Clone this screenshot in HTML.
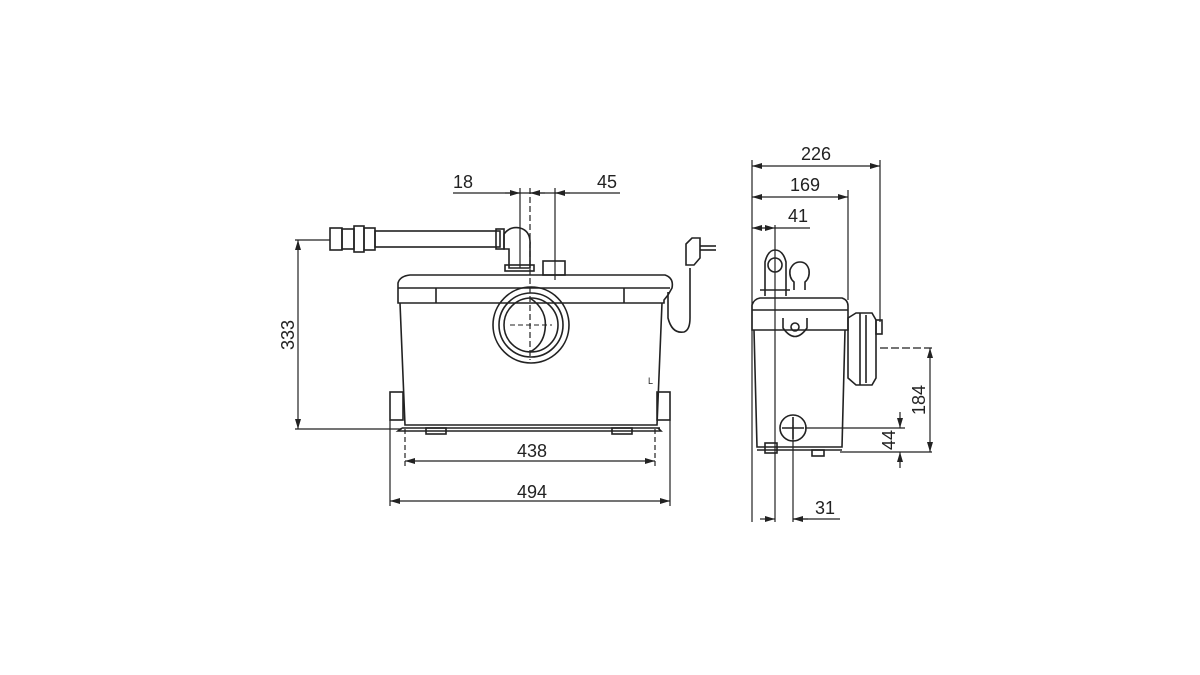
<!DOCTYPE html>
<html><head><meta charset="utf-8"><style>
html,body{margin:0;padding:0;background:#fff;}
svg{display:block}
text{font-family:"Liberation Sans",sans-serif;font-size:18px;fill:#222}
</style></head><body>
<svg width="1200" height="675" viewBox="0 0 1200 675" xmlns="http://www.w3.org/2000/svg">
<defs>
<marker id="a" markerWidth="10" markerHeight="6" refX="10" refY="3" orient="auto-start-reverse" markerUnits="userSpaceOnUse"><path d="M0,0 L10,3 L0,6 z" fill="#222"/></marker>
</defs>
<g stroke="#222" stroke-width="1.2" fill="none">
<!-- FRONT VIEW dimensions -->
<line x1="453" y1="193" x2="620" y2="193"/>
<line x1="520" y1="188" x2="520" y2="268"/>
<line x1="530" y1="188" x2="530" y2="360" stroke-dasharray="6,3"/>
<line x1="555" y1="188" x2="555" y2="280"/>
<line x1="505" y1="193" x2="520" y2="193" marker-end="url(#a)"/>
<line x1="545" y1="193" x2="530" y2="193" marker-end="url(#a)"/>
<line x1="570" y1="193" x2="555" y2="193" marker-end="url(#a)"/>
<line x1="298" y1="240" x2="298" y2="429" marker-start="url(#a)" marker-end="url(#a)"/>
<line x1="295" y1="240" x2="330" y2="240"/>
<line x1="295" y1="429" x2="402" y2="429"/>
<line x1="405" y1="429" x2="405" y2="466" stroke-dasharray="5,3"/>
<line x1="655" y1="429" x2="655" y2="466" stroke-dasharray="5,3"/>
<line x1="405" y1="461" x2="655" y2="461" marker-start="url(#a)" marker-end="url(#a)"/>
<line x1="390" y1="420" x2="390" y2="506"/>
<line x1="670" y1="420" x2="670" y2="506"/>
<line x1="390" y1="501" x2="670" y2="501" marker-start="url(#a)" marker-end="url(#a)"/>
<!-- body -->
<g stroke-width="1.6">
<path d="M398,303 L398,283 Q400,276 410,275 L665,275 Q674,278 672,288 L668,295 L664,300 L664,303 Z"/>
<line x1="398" y1="288" x2="670" y2="288"/>
<line x1="436" y1="288" x2="436" y2="303"/><line x1="624" y1="288" x2="624" y2="303"/>
<path d="M400,303 L405,425 L657,425 L662,303"/>
<line x1="402" y1="428" x2="660" y2="428"/>
<path d="M402,428 L398,431 L661,431 L658,428"/>
<rect x="390" y="392" width="13" height="28"/>
<rect x="657" y="392" width="13" height="28"/>
<rect x="426" y="428" width="20" height="6"/>
<rect x="612" y="428" width="20" height="6"/>
<circle cx="531" cy="325" r="38"/>
<circle cx="531" cy="325" r="32"/>
<circle cx="531" cy="325" r="27"/>
<path d="M530,298 Q548,310 545,330 Q543,345 530,352"/>
<line x1="510" y1="325" x2="552" y2="325" stroke-dasharray="5,3" stroke-width="1"/>
<!-- pipe -->
<rect x="375" y="231" width="125" height="16"/>
<rect x="330" y="228" width="12" height="22"/><rect x="342" y="229" width="12" height="20"/>
<rect x="354" y="226" width="10" height="26"/><rect x="364" y="228" width="11" height="22"/>
<rect x="496" y="229" width="8" height="20"/>
<path d="M504,234 Q510,226 520,228 Q531,231 530,245 L530,268 L509,268 L509,249 L504,249 Z"/>
<rect x="505" y="265" width="29" height="6"/>
<rect x="543" y="261" width="22" height="14"/>
<!-- cable -->
<path d="M668,292 L668,318 Q672,334 684,332 Q690,330 690,318 L690,268"/>
<path d="M686,265 L686,244 L692,238 L700,238 L700,258 L694,265 Z"/>
<line x1="700" y1="246" x2="716" y2="246"/><line x1="700" y1="250" x2="716" y2="250"/>
<text x="648" y="384" style="font-size:9px" stroke="none">L</text>
</g>
<!-- SIDE VIEW dims -->
<line x1="752" y1="160" x2="752" y2="522"/>
<line x1="880" y1="160" x2="880" y2="322"/>
<line x1="848" y1="190" x2="848" y2="300"/>
<line x1="752" y1="166" x2="880" y2="166" marker-start="url(#a)" marker-end="url(#a)"/>
<line x1="752" y1="197" x2="848" y2="197" marker-start="url(#a)" marker-end="url(#a)"/>
<line x1="752" y1="228" x2="775" y2="228" marker-start="url(#a)" marker-end="url(#a)"/>
<line x1="775" y1="228" x2="810" y2="228"/>
<line x1="775" y1="225" x2="775" y2="522"/>
<line x1="793" y1="425" x2="793" y2="522"/>
<line x1="760" y1="519" x2="775" y2="519" marker-end="url(#a)"/>
<line x1="808" y1="519" x2="793" y2="519" marker-end="url(#a)"/>
<line x1="793" y1="519" x2="840" y2="519"/>
<line x1="880" y1="348" x2="932" y2="348" stroke-dasharray="8,3"/>
<line x1="840" y1="452" x2="932" y2="452"/>
<line x1="930" y1="348" x2="930" y2="452" marker-start="url(#a)" marker-end="url(#a)"/>
<line x1="805" y1="428" x2="905" y2="428"/>
<line x1="900" y1="412" x2="900" y2="428" marker-end="url(#a)"/>
<line x1="900" y1="468" x2="900" y2="452" marker-end="url(#a)"/>
<g stroke-width="1.6">
<path d="M752,330 L752,305 Q754,299 760,298 L842,298 Q848,300 848,306 L848,330 Z"/>
<line x1="752" y1="310" x2="848" y2="310"/>
<path d="M783,318 L783,328 Q795,345 807,328 L807,318"/>
<circle cx="795" cy="327" r="4"/>
<path d="M754,330 L757,447 L842,447 L845,330"/>
<line x1="757" y1="450" x2="842" y2="450"/>
<rect x="765" y="443" width="12" height="10"/>
<rect x="812" y="450" width="12" height="6"/>
<circle cx="793" cy="428" r="13"/>
<line x1="782" y1="428" x2="804" y2="428"/><line x1="793" y1="417" x2="793" y2="439"/>
<path d="M848,318 L856,313 L872,313 L876,320 L876,378 L872,385 L856,385 L848,378 Z"/>
<line x1="860" y1="313" x2="860" y2="385"/><line x1="866" y1="315" x2="866" y2="383"/>
<rect x="876" y="320" width="6" height="14"/>
<path d="M765,296 L765,262 Q768,250 775,250 Q783,250 786,262 L786,296"/>
<circle cx="775" cy="265" r="7"/>
<line x1="760" y1="290" x2="790" y2="290"/>
<path d="M794,290 L794,282 Q789,278 790,270 Q793,262 800,262 Q807,262 809,270 Q810,278 805,282 L805,290"/>
</g>
</g>
<text x="453" y="188">18</text>
<text x="597" y="188">45</text>
<text x="532" y="457" text-anchor="middle">438</text>
<text x="532" y="498" text-anchor="middle">494</text>
<text transform="translate(294,335) rotate(-90)" text-anchor="middle">333</text>
<text x="816" y="160" text-anchor="middle">226</text>
<text x="805" y="191" text-anchor="middle">169</text>
<text x="798" y="222" text-anchor="middle">41</text>
<text x="825" y="514" text-anchor="middle">31</text>
<text transform="translate(925,400) rotate(-90)" text-anchor="middle">184</text>
<text transform="translate(895,440) rotate(-90)" text-anchor="middle">44</text>
</svg>
</body></html>
